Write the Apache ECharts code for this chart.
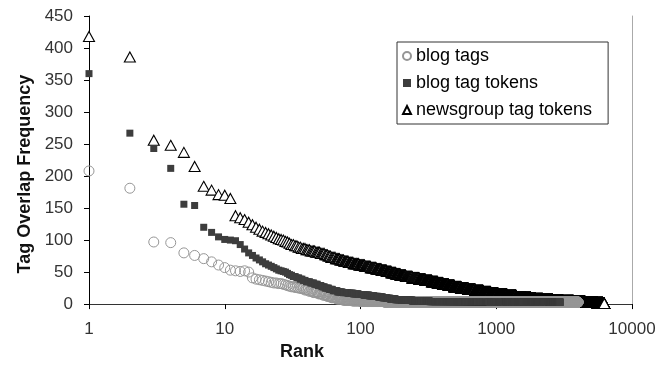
<!DOCTYPE html>
<html>
<head>
<meta charset="utf-8">
<script src="https://cdn.jsdelivr.net/npm/echarts@6/dist/echarts.min.js"></script>
<style>
html,body{margin:0;padding:0;background:#fff;}
#chart{width:669px;height:366px;}
</style>
</head>
<body>
<div id="chart"></div>
<script>
// ---- Data ----
const seriesNames = ['blog tags', 'blog tag tokens', 'newsgroup tag tokens'];
const xTickLabels = ['1', '10', '100', '1000', '10000'];
const yTickLabels = ['0', '50', '100', '150', '200', '250', '300', '350', '400', '450'];

// Values for ranks 1..30, then runs of equal value (value held up to the given rank)
const blogTagsHead = [208, 181, 97, 96, 80, 76, 71, 66, 61, 57, 53, 52, 51, 52, 50, 41, 39, 38, 37, 36, 35, 34, 33, 33, 32, 32, 31, 30, 29, 28];
const blogTagsTailValues = [27, 26, 25, 24, 22, 20, 18, 16, 14, 12, 10, 8, 6, 5, 4, 3];
const blogTagsTailEndRanks = [32, 34, 36, 38, 41, 44, 48, 52, 56, 60, 66, 74, 86, 100, 150, 4000];

const blogTokensHead = [360, 267, 243, 212, 156, 154, 120, 112, 105, 101, 100, 99, 93, 86, 80, 76, 72, 69, 66, 63, 61, 59, 57, 55, 53, 52, 51, 50, 48, 46];
const blogTokensTailValues = [45, 43, 41, 39, 37, 35, 33, 31, 29, 27, 25, 23, 21, 19, 18, 17, 16, 15, 14, 13, 12, 11, 10, 9, 8, 7, 6, 5, 4, 3];
const blogTokensTailEndRanks = [31, 33, 35, 37, 39, 42, 45, 48, 51, 54, 58, 62, 67, 73, 80, 88, 96, 105, 115, 125, 135, 145, 155, 165, 180, 200, 240, 320, 900, 2940];

const newsTokensHead = [418, 386, 256, 248, 237, 215, 184, 178, 171, 170, 165, 138, 135, 132, 128, 124, 120, 117, 114, 112, 110, 108, 106, 104, 102, 101, 100, 98, 97, 95];
const newsTokensTailValues = [93, 91, 89, 87, 85, 83, 81, 79, 77, 75, 73, 71, 69, 67, 65, 63, 61, 59, 57, 55, 53, 51, 49, 47, 45, 43, 41, 39, 37, 35, 33, 31, 29, 27, 25, 23, 21, 19, 17, 15, 13, 11, 10, 9, 8, 7, 6, 5, 4, 3, 2, 1];
const newsTokensTailEndRanks = [32, 34, 36, 39, 42, 46, 50, 54, 57, 60, 65, 70, 75, 81, 88, 97, 107, 118, 130, 142, 155, 168, 182, 196, 215, 240, 270, 300, 335, 370, 405, 445, 490, 550, 620, 700, 800, 910, 1030, 1200, 1400, 1650, 1800, 1950, 2200, 2600, 3100, 3700, 4500, 5600, 6100, 6250];

// Rank-frequency points: one point per rank
function rankPoints(head, tailValues, tailEnds) {
  const pts = [];
  head.forEach((v, i) => pts.push([i + 1, v]));
  let r = head.length + 1;
  tailValues.forEach((v, i) => {
    for (; r <= tailEnds[i]; r++) pts.push([r, v]);
  });
  return pts;
}

const FONT = "'Liberation Sans', Arial, sans-serif";
const chart = echarts.init(document.getElementById('chart'), null, {renderer: 'canvas'});

const option = {
  animation: false,
  backgroundColor: '#fff',
  grid: {left: 89, right: 37, top: 16, bottom: 53},
  legend: {
    orient: 'vertical',
    left: 397, top: 42,
    padding: [5, 16, 5, 5],
    itemGap: 9,
    itemWidth: 8, itemHeight: 8,
    borderColor: '#333', borderWidth: 1,
    textStyle: {fontFamily: FONT, fontSize: 18, color: '#000'},
    data: [
      {name: seriesNames[0], icon: 'circle'},
      {name: seriesNames[1], icon: 'rect'},
      {name: seriesNames[2], icon: 'triangle'}
    ]
  },
  xAxis: [{
    type: 'log', logBase: 10, min: 1, max: 10000,
    name: 'Rank', nameLocation: 'middle', nameGap: 34,
    nameTextStyle: {fontFamily: FONT, fontSize: 18, fontWeight: 'bold', color: '#111', padding: [0, 117, 0, 0]},
    axisLine: {show: true, lineStyle: {color: '#000', width: 1}},
    axisTick: {show: true, inside: false, length: 5, lineStyle: {color: '#000'}},
    minorTick: {show: false},
    splitLine: {show: false},
    axisLabel: {fontFamily: FONT, fontSize: 17, color: '#333', margin: 17,
      formatter: (v) => xTickLabels[Math.round(Math.log10(v))]}
  }, {
    type: 'log', logBase: 10, min: 1, max: 10000, position: 'top',
    axisLine: {show: true, lineStyle: {color: '#333', width: 1}},
    axisTick: {show: false}, axisLabel: {show: false}, splitLine: {show: false}
  }],
  yAxis: [{
    type: 'value', min: 0, max: 450, interval: 50,
    name: 'Tag Overlap Frequency', nameLocation: 'middle', nameGap: 55, nameRotate: 90,
    nameTextStyle: {fontFamily: FONT, fontSize: 18, fontWeight: 'bold', color: '#111', padding: [0, 28, 0, 0]},
    axisLine: {show: true, lineStyle: {color: '#000', width: 1}},
    axisTick: {show: true, inside: false, length: 5, lineStyle: {color: '#000'}},
    splitLine: {show: false},
    axisLabel: {fontFamily: FONT, fontSize: 17, color: '#333', margin: 16,
      formatter: (v) => yTickLabels[Math.round(v / 50)]}
  }, {
    type: 'value', min: 0, max: 450, interval: 50, position: 'right',
    axisLine: {show: true, lineStyle: {color: '#aaa', width: 1}},
    axisTick: {show: false}, axisLabel: {show: false}, splitLine: {show: false}
  }],
  series: [
    {
      name: seriesNames[2], type: 'scatter', progressive: 0,
      symbol: 'triangle', symbolSize: [11, 10],
      itemStyle: {color: '#fff', borderColor: '#000', borderWidth: 1.1, opacity: 1},
      data: rankPoints(newsTokensHead, newsTokensTailValues, newsTokensTailEndRanks)
    },
    {
      name: seriesNames[0], type: 'scatter', progressive: 0,
      symbol: 'circle', symbolSize: 10,
      itemStyle: {color: 'rgba(255,255,255,0)', borderColor: '#959595', borderWidth: 1, opacity: 1},
      data: rankPoints(blogTagsHead, blogTagsTailValues, blogTagsTailEndRanks)
    },
    {
      name: seriesNames[1], type: 'scatter', progressive: 0,
      symbol: 'rect', symbolSize: 7,
      itemStyle: {color: '#3d3d3d', opacity: 1},
      data: rankPoints(blogTokensHead, blogTokensTailValues, blogTokensTailEndRanks)
    }
  ]
};
chart.setOption(option);
</script>
</body>
</html>
